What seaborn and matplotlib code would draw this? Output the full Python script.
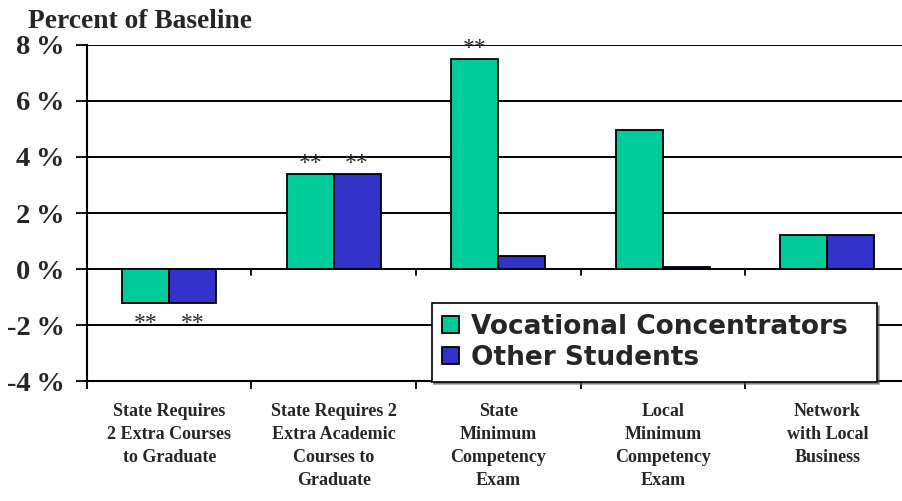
import pandas as pd
import matplotlib.pyplot as plt
import seaborn as sns

# data
categories = [
    "State Requires\n2 Extra Courses\nto Graduate",
    "State Requires 2\nExtra Academic\nCourses to\nGraduate",
    "State\nMinimum\nCompetency\nExam",
    "Local\nMinimum\nCompetency\nExam",
    "Network\nwith Local\nBusiness",
]
series = ["Vocational Concentrators", "Other Students"]
vocational = [-1.2, 3.4, 7.5, 4.95, 1.2]
other = [-1.2, 3.4, 0.45, 0.08, 1.2]
sig_vocational = [True, True, True, False, False]
sig_other = [True, True, False, False, False]
y_ticks = [-4, -2, 0, 2, 4, 6, 8]
colors = ["#00CC99", "#3333CC"]

df = pd.DataFrame({
    "category": categories * 2,
    "group": [series[0]] * 5 + [series[1]] * 5,
    "value": vocational + other,
})

sns.set_style("white")
plt.rcParams["font.family"] = ["Liberation Serif", "DejaVu Serif"]

fig = plt.figure(figsize=(9.03, 5.01), dpi=100)
ax = fig.add_axes([0.0963, 0.2395, 0.911, 0.6707])

sns.barplot(data=df, x="category", y="value", hue="group", palette=colors, saturation=1,
            edgecolor="black", linewidth=1.3, width=0.57, ax=ax, zorder=3)

ax.set_xlim(-0.5, len(categories) - 0.5)
ax.set_ylim(-4, 8)
ax.set_yticks(y_ticks)
ax.set_yticklabels([f"{v}\u2009%" for v in y_ticks], fontsize=20.5, fontweight="bold")
ax.yaxis.grid(True, color="black", linewidth=1.4, zorder=0)
ax.set_axisbelow(True)

# category ticks sit on boundaries between groups
bounds = [i - 0.5 for i in range(len(categories) + 1)]
ax.set_xticks(bounds, minor=True)
ax.set_xticks(range(len(categories)))
ax.set_xticklabels(categories, fontsize=13, fontweight="bold", linespacing=1.45, va="top")
ax.tick_params(axis="x", which="major", length=0, pad=16)
ax.tick_params(axis="x", which="minor", length=6, width=1.3, color="black", direction="out", bottom=True)
ax.tick_params(axis="y", length=8, width=1.3, color="black", direction="out", left=True, pad=8)
for b in bounds[1:-1]:
    ax.plot([b, b], [0, -0.2], color="black", lw=1.3, zorder=4)

for s in ["top", "right"]:
    ax.spines[s].set_visible(False)
ax.spines["left"].set_linewidth(1.5)
ax.spines["left"].set_color("black")
ax.spines["bottom"].set_linewidth(1.5)
ax.spines["bottom"].set_color("black")

ax.set_xlabel("")
ax.set_ylabel("")

# significance markers
flags = sig_vocational + sig_other
for patch, val, flag in zip(ax.patches, vocational + other, flags):
    if not flag:
        continue
    xc = patch.get_x() + patch.get_width() / 2
    off = 10 if val >= 0 else -21
    ax.annotate("**", xy=(xc, val), xytext=(0, off), textcoords="offset pixels",
                ha="center", va="center", fontsize=17, zorder=5)

fig.text(0.031, 0.932, "Percent of Baseline", fontsize=19.8, fontweight="bold", ha="left", va="bottom")

leg = ax.legend(loc="lower left", bbox_to_anchor=(0.419, -0.002, 0.541, 0.24), mode="expand",
                borderaxespad=0, frameon=True, fancybox=False, shadow=True, edgecolor="black",
                framealpha=1, borderpad=0.4, handlelength=0.65, handleheight=0.6,
                handletextpad=0.45, labelspacing=0.2,
                prop={"family": "DejaVu Sans", "weight": "bold", "size": 19})
leg.get_frame().set_linewidth(1.2)
leg.set_zorder(6)

fig.savefig("out.png", dpi=100)
